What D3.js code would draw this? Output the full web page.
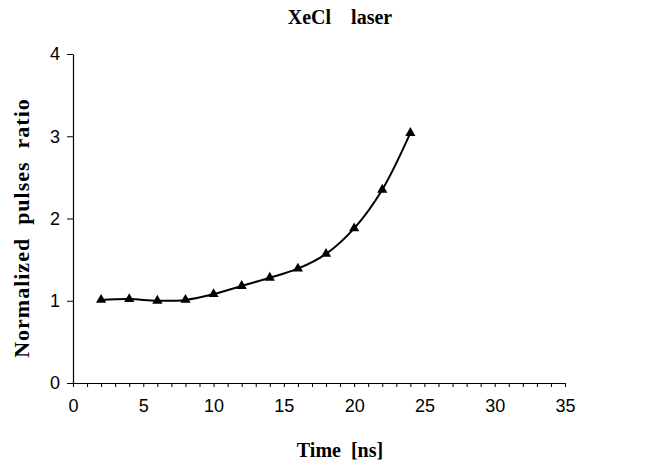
<!DOCTYPE html>
<html>
<head>
<meta charset="utf-8">
<script src="https://cdn.jsdelivr.net/npm/d3@7"></script>
<style>
  body { margin: 0; background: #fff; }
</style>
</head>
<body>
<div id="chart"></div>
<script>
// data
var timeNs = [2, 4, 6, 8, 10, 12, 14, 16, 18, 20, 22, 24];
var ratio = [1.01, 1.02, 1.0, 1.01, 1.08, 1.18, 1.28, 1.39, 1.57, 1.88, 2.35, 3.04];
var xTicks = [0, 5, 10, 15, 20, 25, 30, 35];
var yTicks = [0, 1, 2, 3, 4];

var width = 662, height = 466;
var margin = {top: 54, right: 97, bottom: 83, left: 73};
var sans = "'Liberation Sans', Arial, sans-serif";
var serif = "'Liberation Serif', 'Times New Roman', serif";

var svg = d3.select("#chart").append("svg")
    .attr("width", width)
    .attr("height", height);

var x = d3.scaleLinear().domain([0, 35]).range([margin.left, width - margin.right]);
var y = d3.scaleLinear().domain([0, 4]).range([height - margin.bottom, margin.top]);

// x axis, minor ticks every 1 ns
var xAxis = svg.append("g")
    .attr("transform", "translate(0," + y(0) + ")")
    .call(d3.axisBottom(x).tickValues(d3.range(0, 36, 1)).tickSize(4).tickSizeOuter(0)
        .tickFormat(function(d) { return xTicks.indexOf(d) >= 0 ? d : ""; }));
xAxis.select(".domain").attr("stroke", "#000").attr("stroke-width", 1.2);
xAxis.selectAll(".tick line").attr("stroke", "#000");
xAxis.selectAll(".tick text")
    .attr("dy", "1.2em")
    .style("font-family", sans).style("font-size", "18px").attr("fill", "#000");

var yAxis = svg.append("g")
    .attr("transform", "translate(" + x(0) + ",0)")
    .call(d3.axisLeft(y).tickValues(yTicks).tickSize(6).tickSizeOuter(0).tickPadding(7)
        .tickFormat(d3.format("d")));
yAxis.select(".domain").attr("stroke", "#000").attr("stroke-width", 1.2);
yAxis.selectAll(".tick line").attr("stroke", "#000");
yAxis.selectAll(".tick text")
    .style("font-family", sans).style("font-size", "18px").attr("fill", "#000");

var pts = timeNs.map(function(t, i) { return [t, ratio[i]]; });

var line = d3.line()
    .x(function(d) { return x(d[0]); })
    .y(function(d) { return y(d[1]); })
    .curve(d3.curveCatmullRom);

svg.append("path")
    .datum(pts)
    .attr("fill", "none")
    .attr("stroke", "#000")
    .attr("stroke-width", 2)
    .attr("d", line);

svg.selectAll(".mark")
    .data(pts)
    .enter().append("path")
    .attr("class", "mark")
    .attr("transform", function(d) { return "translate(" + x(d[0]) + "," + y(d[1]) + ")"; })
    .attr("d", d3.symbol().type(d3.symbolTriangle).size(45))
    .attr("fill", "#000");

function label(t, size) {
    return svg.append("text")
        .attr("text-anchor", "middle")
        .style("white-space", "pre")
        .style("font-family", serif)
        .style("font-weight", "bold")
        .style("font-size", size + "px")
        .attr("fill", "#000")
        .text(t);
}

label("XeCl    laser", 20).attr("x", 340).attr("y", 24);
label("Time  [ns]", 20).attr("x", 340).attr("y", 457);
label("Normalized  pulses  ratio", 22)
    .style("letter-spacing", "1px")
    .attr("transform", "translate(29,228) rotate(-90)");
</script>
</body>
</html>
